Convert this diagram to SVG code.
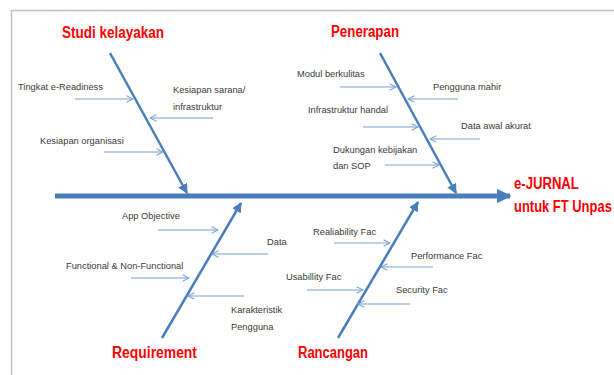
<svg xmlns="http://www.w3.org/2000/svg" width="614" height="375" viewBox="0 0 614 375">
<defs>
<marker id="bone" viewBox="0 0 10 10" refX="9" refY="5" markerWidth="4" markerHeight="4" orient="auto" markerUnits="strokeWidth">
<path d="M0,0 L10,5 L0,10 Z" fill="#4a7ebb"/>
</marker>
<marker id="spine" viewBox="0 0 10 10" refX="9" refY="5" markerWidth="3" markerHeight="3" orient="auto" markerUnits="strokeWidth">
<path d="M0,0 L10,5 L0,10 Z" fill="#4a7ebb"/>
</marker>
<marker id="sub" viewBox="0 0 10 10" refX="9" refY="5" markerWidth="8" markerHeight="8" orient="auto" markerUnits="userSpaceOnUse">
<path d="M1,1 L9,5 L1,9" fill="none" stroke="#7ba0d4" stroke-width="1.3"/>
</marker>
</defs>
<style>
.bone{stroke:#4a7ebb;stroke-width:2.5;fill:none;marker-end:url(#bone)}
.sub{stroke:#7ba0d4;stroke-width:1.2;fill:none;marker-end:url(#sub)}
.lbl{font-family:"Liberation Sans",Arial,sans-serif;font-size:9.3px;fill:#3a3a3a}
.ttl{font-family:"Liberation Sans",Arial,sans-serif;font-size:16px;font-weight:bold;fill:#ff0000}
</style>
<rect x="0" y="0" width="614" height="375" fill="#ffffff"/>
<path d="M11.5,375 V10.5 H614" fill="none" stroke="#c0c0c0" stroke-width="1.5"/>

<g id="connectors">
<line x1="55" y1="196" x2="510" y2="196" stroke="#4a7ebb" stroke-width="5" marker-end="url(#spine)"/>
<line class="bone" x1="110" y1="53" x2="187" y2="193"/>
<line class="bone" x1="380" y1="53" x2="456" y2="193"/>
<line class="bone" x1="162" y1="338" x2="241" y2="203"/>
<line class="bone" x1="338" y1="338" x2="418" y2="202"/>
<line class="sub" x1="75" y1="99" x2="133" y2="99"/>
<line class="sub" x1="213" y1="118" x2="150" y2="118"/>
<line class="sub" x1="104" y1="152" x2="163" y2="152"/>
<line class="sub" x1="340" y1="87" x2="396" y2="87"/>
<line class="sub" x1="458" y1="99" x2="408" y2="99"/>
<line class="sub" x1="363" y1="127" x2="418" y2="127"/>
<line class="sub" x1="480" y1="139" x2="430" y2="139"/>
<line class="sub" x1="385" y1="165" x2="439" y2="165"/>
<line class="sub" x1="158" y1="230" x2="218" y2="230"/>
<line class="sub" x1="268" y1="254" x2="212" y2="254"/>
<line class="sub" x1="131" y1="278" x2="189" y2="278"/>
<line class="sub" x1="244" y1="296" x2="188" y2="296"/>
<line class="sub" x1="334" y1="243" x2="390" y2="243"/>
<line class="sub" x1="433" y1="267" x2="381" y2="267"/>
<line class="sub" x1="307" y1="290" x2="363" y2="290"/>
<line class="sub" x1="410" y1="304" x2="358" y2="304"/>
</g>

<g id="studi">
<text class="ttl" x="62" y="38" textLength="102" lengthAdjust="spacingAndGlyphs">Studi kelayakan</text>
<text class="lbl" x="18" y="90">Tingkat e-Readiness</text>
<text class="lbl" x="173" y="93">Kesiapan sarana/</text>
<text class="lbl" x="173" y="110">infrastruktur</text>
<text class="lbl" x="40" y="144">Kesiapan organisasi</text>
</g>

<g id="penerapan">
<text class="ttl" x="331" y="37" textLength="68" lengthAdjust="spacingAndGlyphs">Penerapan</text>
<text class="lbl" x="297" y="77">Modul berkulitas</text>
<text class="lbl" x="433" y="90">Pengguna mahir</text>
<text class="lbl" x="308" y="113">Infrastruktur handal</text>
<text class="lbl" x="461" y="129">Data awal akurat</text>
<text class="lbl" x="333" y="153">Dukungan kebijakan</text>
<text class="lbl" x="333" y="169">dan SOP</text>
</g>

<g id="effect">
<text class="ttl" transform="translate(514,189) scale(0.82,1)" x="0" y="0">e-JURNAL</text>
<text class="ttl" transform="translate(514,212) scale(0.81,1)" x="0" y="0">untuk FT Unpas</text>
</g>

<g id="requirement">
<text class="ttl" x="112" y="358" textLength="85" lengthAdjust="spacingAndGlyphs">Requirement</text>
<text class="lbl" x="122" y="219">App Objective</text>
<text class="lbl" x="267" y="245">Data</text>
<text class="lbl" x="66" y="269">Functional &amp; Non-Functional</text>
<text class="lbl" x="231" y="313">Karakteristik</text>
<text class="lbl" x="231" y="330">Pengguna</text>
</g>

<g id="rancangan">
<text class="ttl" x="298" y="358" textLength="70" lengthAdjust="spacingAndGlyphs">Rancangan</text>
<text class="lbl" x="313" y="235">Realiability Fac</text>
<text class="lbl" x="411" y="259">Performance Fac</text>
<text class="lbl" x="286" y="280">Usabillity Fac</text>
<text class="lbl" x="396" y="293">Security Fac</text>
</g>
</svg>
